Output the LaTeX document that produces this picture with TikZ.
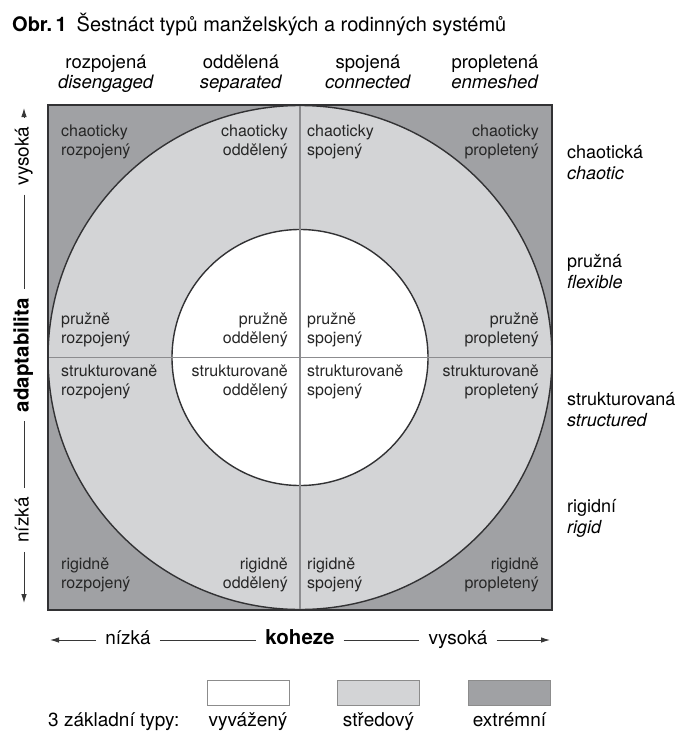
\documentclass[tikz,border=0pt]{standalone}
\usepackage{fontspec}
\setmainfont{TeX Gyre Heros}
\usetikzlibrary{arrows.meta,positioning}
\definecolor{extremgray}{RGB}{160,161,164}
\definecolor{stredgray}{RGB}{211,212,214}
\definecolor{framegray}{RGB}{50,50,52}
\definecolor{divgray}{RGB}{140,140,143}
\definecolor{axisgray}{RGB}{55,55,55}

\begin{document}
\begin{tikzpicture}[x=1pt, y=-1pt,
  celltxt/.style={font=\fontsize{16}{19}\selectfont, inner sep=0pt, text=black!85},
  cellL/.style={celltxt, align=left, anchor=base west},
  cellR/.style={celltxt, align=right, anchor=base east},
  headtxt/.style={font=\fontsize{18.5}{20}\selectfont, align=center, inner sep=0pt, anchor=base},
  sidetxt/.style={font=\fontsize{18}{21}\selectfont, align=left, inner sep=0pt, anchor=base west},
  axistxt/.style={font=\fontsize{19}{20}\selectfont, inner xsep=9pt, inner ysep=0pt, text height=11pt, text depth=2pt},
  axisline/.style={line width=0.9pt, axisgray},
  axisarrow/.style={axisline, -{Latex[length=9pt,width=5.5pt]}},
  legendbox/.style={draw=black!45, line width=0.8pt, minimum width=82pt, minimum height=25pt, inner sep=0pt},
  legendtxt/.style={font=\fontsize{19}{20}\selectfont, inner sep=0pt, anchor=base}]
  \useasboundingbox (0,0) rectangle (680,731);

  \node[anchor=base west, inner sep=0pt, font=\fontsize{20}{22}\selectfont] (title) at (12,31) {\textbf{Obr.\,1}\hspace{10pt}Šestnáct typů manželských a rodinných systémů};

  %--- Column headers (base = second line) ---
  \node[headtxt] (hRoz) at (106,88) {rozpojená\\\textit{disengaged}};
  \node[headtxt] (hOdd) at (241,88) {oddělená\\\textit{separated}};
  \node[headtxt] (hSpo) at (368,88) {spojená\\\textit{connected}};
  \node[headtxt] (hPro) at (495,88) {propletená\\\textit{enmeshed}};

  %--- Square and rings ---
  \fill[extremgray] (48,105) rectangle (552,610);
  \filldraw[fill=stredgray, draw=framegray, line width=1.4pt] (300,357.5) circle[radius=252];
  \filldraw[fill=white, draw=framegray, line width=1.4pt] (300,357.5) circle[radius=128];
  \draw[divgray, line width=1.3pt] (300,105) -- (300,610);
  \draw[divgray, line width=1.3pt] (48,357.5) -- (552,357.5);
  \draw[framegray, line width=2.4pt] (48,105) rectangle (552,610);

  %--- Cell labels ---
  \node[cellL] (chRoz) at (61,155) {chaoticky\\rozpojený};
  \node[cellR] (chOdd) at (288,155) {chaoticky\\oddělený};
  \node[cellL] (chSpo) at (307,155) {chaoticky\\spojený};
  \node[cellR] (chPro) at (539,155) {chaoticky\\propletený};

  \node[cellL] (prRoz) at (61,343) {pružně\\rozpojený};
  \node[cellR] (prOdd) at (288,343) {pružně\\oddělený};
  \node[cellL] (prSpo) at (307,343) {pružně\\spojený};
  \node[cellR] (prPro) at (539,343) {pružně\\propletený};

  \node[cellL] (stRoz) at (61,395) {strukturovaně\\rozpojený};
  \node[cellR] (stOdd) at (288,395) {strukturovaně\\oddělený};
  \node[cellL] (stSpo) at (307,395) {strukturovaně\\spojený};
  \node[cellR] (stPro) at (539,395) {strukturovaně\\propletený};

  \node[cellL] (riRoz) at (61,588) {rigidně\\rozpojený};
  \node[cellR] (riOdd) at (288,588) {rigidně\\oddělený};
  \node[cellL] (riSpo) at (307,588) {rigidně\\spojený};
  \node[cellR] (riPro) at (539,588) {rigidně\\propletený};

  %--- Row labels ---
  \node[sidetxt] (sChao) at (567,179) {chaotická\\\textit{chaotic}};
  \node[sidetxt] (sPruz) at (567,288) {pružná\\\textit{flexible}};
  \node[sidetxt] (sStru) at (567,426) {strukturovaná\\\textit{structured}};
  \node[sidetxt] (sRigi) at (567,533) {rigidní\\\textit{rigid}};

  %--- Adaptabilita axis ---
  \coordinate (adTop) at (24,108);
  \coordinate (adBot) at (24,603);
  \node[axistxt, rotate=90] (adHi) at (24,156) {vysoká};
  \node[axistxt, rotate=90, font=\fontsize{20.5}{22}\selectfont\bfseries] (adapt) at (24,355) {adaptabilita};
  \node[axistxt, rotate=90] (adLo) at (24,520) {nízká};
  \draw[axisarrow] (adHi) -- (adTop);
  \draw[axisline] (adHi) -- (adapt);
  \draw[axisline] (adapt) -- (adLo);
  \draw[axisarrow] (adLo) -- (adBot);

  %--- Koheze axis ---
  \coordinate (koL) at (50,640);
  \coordinate (koR) at (550,640);
  \node[axistxt] (koLo) at (128,640) {nízká};
  \node[axistxt, font=\fontsize{20.5}{22}\selectfont\bfseries] (koh) at (300,640) {koheze};
  \node[axistxt] (koHi) at (458,640) {vysoká};
  \draw[axisarrow] (koLo) -- (koL);
  \draw[axisline] (koLo) -- (koh);
  \draw[axisline] (koh) -- (koHi);
  \draw[axisarrow] (koHi) -- (koR);

  %--- Legend ---
  \node[legendbox, fill=white] (bal) at (248,693) {};
  \node[legendbox, fill=stredgray] (mid) at (378.5,693) {};
  \node[legendbox, fill=extremgray] (ext) at (509.5,693) {};
  \node[legendtxt, anchor=base west] (typT) at (48,726) {3 základní typy:};
  \node[legendtxt] (balT) at (248,726) {vyvážený};
  \node[legendtxt] (midT) at (378.5,726) {středový};
  \node[legendtxt] (extT) at (509.5,726) {extrémní};
\end{tikzpicture}
\end{document}
